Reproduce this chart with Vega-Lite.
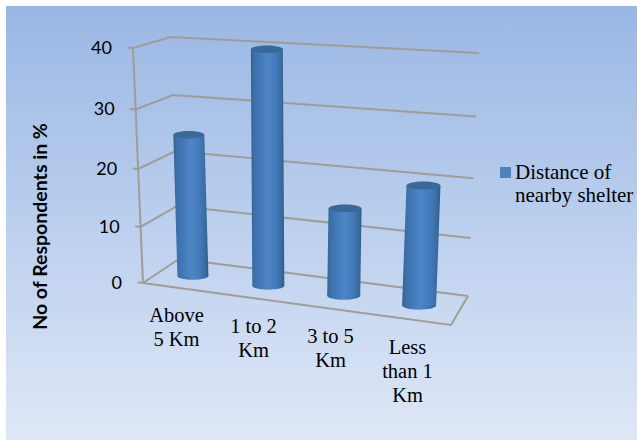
{
  "$schema": "https://vega.github.io/schema/vega-lite/v6.json",
  "width": 631,
  "height": 434,
  "padding": {"left": 6, "top": 6, "right": 0, "bottom": 0},
  "autosize": "none",
  "background": "white",
  "config": {
    "view": {
      "stroke": null,
      "fill": {"x1": 0, "y1": 0, "x2": 0, "y2": 1, "gradient": "linear", "stops": [
        {"offset": 0, "color": "#9ab7e4"},
        {"offset": 0.5, "color": "#bbcfee"},
        {"offset": 1, "color": "#dfe7f6"}
      ]}
    }
  },
  "data": {"values": [
    {"kind": "bar", "category": "Above 5 Km", "series": "Distance of nearby shelter", "i": 0, "value": 25},
    {"kind": "bar", "category": "1 to 2 Km", "series": "Distance of nearby shelter", "i": 1, "value": 40},
    {"kind": "bar", "category": "3 to 5 Km", "series": "Distance of nearby shelter", "i": 2, "value": 15},
    {"kind": "bar", "category": "Less than 1 Km", "series": "Distance of nearby shelter", "i": 3, "value": 20},

    {"kind": "xlabel", "text": "Above\n5 Km", "u": 0.125, "d": 0, "v": 0},
    {"kind": "xlabel", "text": "1 to 2\nKm", "u": 0.375, "d": 0, "v": 0},
    {"kind": "xlabel", "text": "3 to 5\nKm", "u": 0.625, "d": 0, "v": 0},
    {"kind": "xlabel", "text": "Less\nthan 1\nKm", "u": 0.875, "d": 0, "v": 0},

    {"kind": "ylabel", "text": "0", "u": 0, "d": 0, "v": 0},
    {"kind": "ylabel", "text": "10", "u": 0, "d": 0, "v": 10},
    {"kind": "ylabel", "text": "20", "u": 0, "d": 0, "v": 20},
    {"kind": "ylabel", "text": "30", "u": 0, "d": 0, "v": 30},
    {"kind": "ylabel", "text": "40", "u": 0, "d": 0, "v": 40},

    {"kind": "frame", "line": "axis", "seq": 0, "u": 0, "d": 0, "v": 0},
    {"kind": "frame", "line": "axis", "seq": 1, "u": 0, "d": 0, "v": 40},

    {"kind": "frame", "line": "floor front", "seq": 0, "u": 0, "d": 0, "v": 0},
    {"kind": "frame", "line": "floor front", "seq": 1, "u": 1, "d": 0, "v": 0},
    {"kind": "frame", "line": "floor front", "seq": 2, "u": 1, "d": 1, "v": 0},

    {"kind": "frame", "line": "grid 0", "seq": 0, "u": -0.017, "d": 0, "v": 0},
    {"kind": "frame", "line": "grid 0", "seq": 1, "u": 0, "d": 0, "v": 0},
    {"kind": "frame", "line": "grid 0", "seq": 2, "u": 0, "d": 1, "v": 0},
    {"kind": "frame", "line": "grid 0", "seq": 3, "u": 1, "d": 1, "v": 0},

    {"kind": "frame", "line": "grid 10", "seq": 0, "u": -0.017, "d": 0, "v": 10},
    {"kind": "frame", "line": "grid 10", "seq": 1, "u": 0, "d": 0, "v": 10},
    {"kind": "frame", "line": "grid 10", "seq": 2, "u": 0, "d": 1, "v": 10},
    {"kind": "frame", "line": "grid 10", "seq": 3, "u": 1, "d": 1, "v": 10},

    {"kind": "frame", "line": "grid 20", "seq": 0, "u": -0.017, "d": 0, "v": 20},
    {"kind": "frame", "line": "grid 20", "seq": 1, "u": 0, "d": 0, "v": 20},
    {"kind": "frame", "line": "grid 20", "seq": 2, "u": 0, "d": 1, "v": 20},
    {"kind": "frame", "line": "grid 20", "seq": 3, "u": 1, "d": 1, "v": 20},

    {"kind": "frame", "line": "grid 30", "seq": 0, "u": -0.017, "d": 0, "v": 30},
    {"kind": "frame", "line": "grid 30", "seq": 1, "u": 0, "d": 0, "v": 30},
    {"kind": "frame", "line": "grid 30", "seq": 2, "u": 0, "d": 1, "v": 30},
    {"kind": "frame", "line": "grid 30", "seq": 3, "u": 1, "d": 1, "v": 30},

    {"kind": "frame", "line": "grid 40", "seq": 0, "u": -0.017, "d": 0, "v": 40},
    {"kind": "frame", "line": "grid 40", "seq": 1, "u": 0, "d": 0, "v": 40},
    {"kind": "frame", "line": "grid 40", "seq": 2, "u": 0, "d": 1, "v": 40},
    {"kind": "frame", "line": "grid 40", "seq": 3, "u": 1, "d": 1, "v": 40}
  ]},
  "transform": [
    {"calculate": "datum.kind === 'bar' ? [0, datum.value] : [datum.v]", "as": "lvl"},
    {"flatten": ["lvl"]},
    {"calculate": "datum.kind === 'bar' ? (datum.i + 0.5) / 4 : datum.u", "as": "pu"},
    {"calculate": "datum.kind === 'bar' ? 0.5 : datum.d", "as": "pdy"},
    {"calculate": "datum.kind === 'bar' ? 0.34 : datum.d", "as": "pdx"},
    {"calculate": "0.94 * datum.lvl / 40 + 0.06 * (datum.lvl / 40) * (datum.lvl / 40)", "as": "t"},
    {"calculate": "(1-datum.pu)*(1-datum.pdx)*143 + datum.pu*(1-datum.pdx)*451 + (1-datum.pu)*datum.pdx*179 + datum.pu*datum.pdx*468", "as": "x0"},
    {"calculate": "(1-datum.pu)*(1-datum.pdx)*133 + datum.pu*(1-datum.pdx)*463 + (1-datum.pu)*datum.pdx*171 + datum.pu*datum.pdx*479", "as": "x1"},
    {"calculate": "(1-datum.pu)*(1-datum.pdy)*283 + datum.pu*(1-datum.pdy)*325 + (1-datum.pu)*datum.pdy*259 + datum.pu*datum.pdy*296", "as": "y0"},
    {"calculate": "(1-datum.pu)*(1-datum.pdy)*48 + datum.pu*(1-datum.pdy)*68 + (1-datum.pu)*datum.pdy*37 + datum.pu*datum.pdy*53", "as": "y1"},
    {"calculate": "datum.x0 + (datum.x1 - datum.x0) * datum.t", "as": "sx"},
    {"calculate": "datum.y0 + (datum.y1 - datum.y0) * datum.t", "as": "sy"},
    {"calculate": "31 + (datum.i || 0)", "as": "bw"},
    {"calculate": "datum.sx - datum.bw / 2", "as": "xl"},
    {"calculate": "datum.sx + datum.bw / 2", "as": "xr"},
    {"calculate": "datum.bw * datum.bw", "as": "cap"}
  ],
  "encoding": {
    "x": {"field": "sx", "type": "quantitative", "scale": {"domain": [6, 637]}, "axis": null},
    "y": {
      "field": "sy",
      "type": "quantitative",
      "scale": {"domain": [440, 6]},
      "axis": {
        "title": "No of Respondents in %",
        "labels": false,
        "ticks": false,
        "domain": false,
        "grid": false,
        "titleFont": "Lato",
        "titleFontSize": 19.5,
        "titleFontWeight": "bold",
        "titleColor": "#000000",
        "titleAngle": 270,
        "titleAlign": "center",
        "titleBaseline": "middle",
        "titleX": 34,
        "titleY": 220
      }
    }
  },
  "layer": [
    {
      "transform": [{"filter": "datum.kind === 'frame'"}],
      "mark": {"type": "line", "color": "#a09c96", "strokeWidth": 2, "strokeJoin": "miter"},
      "encoding": {"detail": {"field": "line"}, "order": {"field": "seq", "type": "quantitative"}}
    },
    {
      "transform": [{"filter": "datum.kind === 'bar' && datum.lvl === 0"}],
      "mark": {
        "type": "point",
        "filled": true,
        "opacity": 1,
        "shape": "M-1,0 C-1,-0.132 -0.552,-0.24 0,-0.24 C0.552,-0.24 1,-0.132 1,0 C1,0.132 0.552,0.24 0,0.24 C-0.552,0.24 -1,0.132 -1,0 Z",
        "fill": {"x1": 0, "y1": 0, "x2": 1, "y2": 0, "gradient": "linear", "stops": [
          {"offset": 0, "color": "#36699f"},
          {"offset": 0.3, "color": "#447ab9"},
          {"offset": 0.5, "color": "#4d85c8"},
          {"offset": 0.75, "color": "#447ab9"},
          {"offset": 1, "color": "#32618f"}
        ]}
      },
      "encoding": {"size": {"field": "cap", "type": "quantitative", "scale": null, "legend": null}}
    },
    {
      "transform": [{"filter": "datum.kind === 'bar'"}],
      "mark": {
        "type": "area",
        "orient": "horizontal",
        "fill": {"x1": 0, "y1": 0, "x2": 1, "y2": 0, "gradient": "linear", "stops": [
          {"offset": 0, "color": "#33608f"},
          {"offset": 0.1, "color": "#3c70aa"},
          {"offset": 0.3, "color": "#447ab9"},
          {"offset": 0.5, "color": "#4d85c8"},
          {"offset": 0.75, "color": "#447ab9"},
          {"offset": 0.92, "color": "#386a9f"},
          {"offset": 1, "color": "#2f5a88"}
        ]}
      },
      "encoding": {
        "x": {"field": "xl", "type": "quantitative"},
        "x2": {"field": "xr"},
        "detail": {"field": "category"}
      }
    },
    {
      "transform": [{"filter": "datum.kind === 'bar' && datum.lvl > 0"}],
      "mark": {
        "type": "point",
        "filled": true,
        "opacity": 1,
        "color": "#3a6899",
        "shape": "M-1,0 C-1,-0.132 -0.552,-0.24 0,-0.24 C0.552,-0.24 1,-0.132 1,0 C1,0.132 0.552,0.24 0,0.24 C-0.552,0.24 -1,0.132 -1,0 Z"
      },
      "encoding": {"size": {"field": "cap", "type": "quantitative", "scale": null, "legend": null}}
    },
    {
      "transform": [{"filter": "datum.kind === 'xlabel'"}],
      "mark": {
        "type": "text",
        "font": "Liberation Serif",
        "fontSize": 20.5,
        "lineBreak": "\n",
        "lineHeight": 24,
        "baseline": "top",
        "align": "center",
        "dx": -5,
        "dy": 18,
        "color": "#000000"
      },
      "encoding": {"text": {"field": "text"}}
    },
    {
      "transform": [{"filter": "datum.kind === 'ylabel'"}],
      "mark": {
        "type": "text",
        "font": "Lato",
        "fontSize": 18,
        "align": "right",
        "baseline": "middle",
        "dx": -21,
        "dy": 1,
        "color": "#000000"
      },
      "encoding": {"text": {"field": "text"}}
    },
    {
      "transform": [{"filter": "datum.kind === 'bar' && datum.lvl === 0"}],
      "mark": {"type": "point", "filled": true, "opacity": 0, "shape": "square"},
      "encoding": {
        "color": {
          "field": "series",
          "type": "nominal",
          "scale": {"range": ["#4f81bd"]},
          "legend": {
            "orient": "none",
            "legendX": 489,
            "legendY": 156,
            "title": null,
            "symbolType": "square",
            "symbolSize": 121,
            "symbolOpacity": 1,
            "labelFont": "Liberation Serif",
            "labelFontSize": 21,
            "labelColor": "#000000",
            "labelOffset": -1,
            "labelLimit": 200,
            "labelExpr": "['Distance of', 'nearby shelter']"
          }
        }
      }
    }
  ]
}
